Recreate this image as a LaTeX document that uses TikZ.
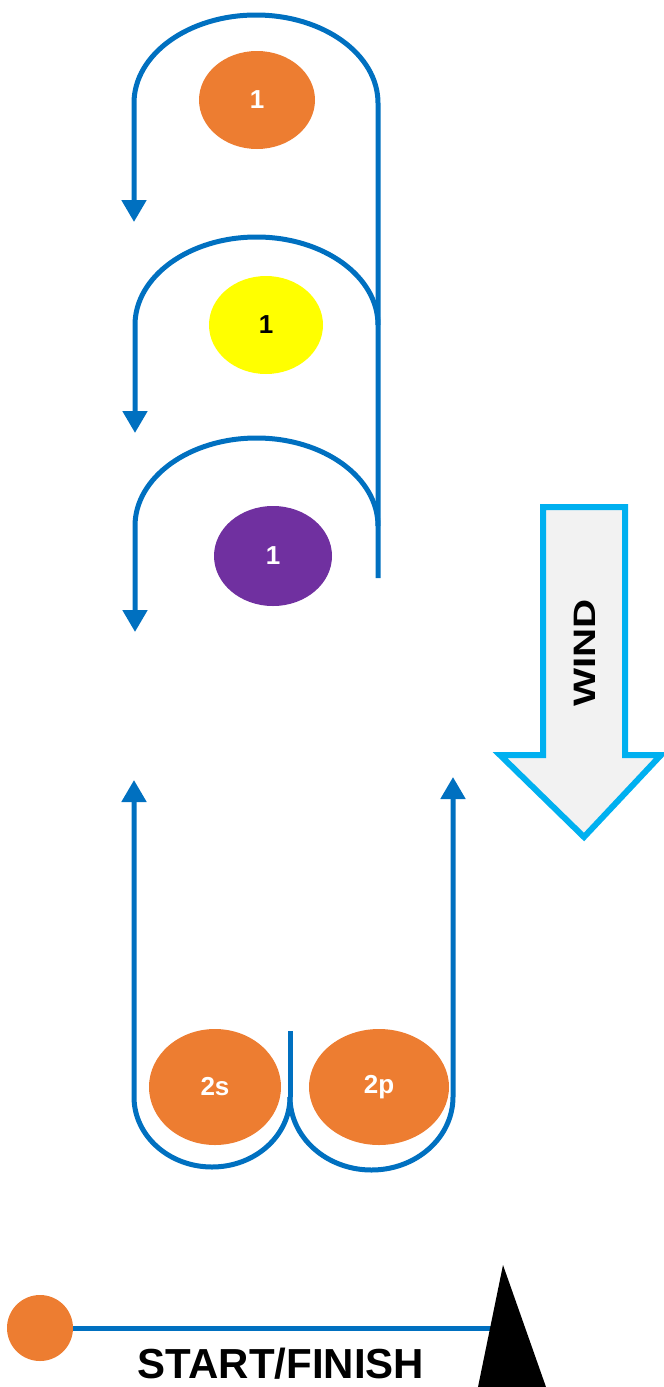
\documentclass[tikz,border=0pt]{standalone}
\usepackage{fontspec}
\setmainfont{Liberation Sans}
\usetikzlibrary{arrows.meta,shapes.geometric}
\definecolor{course}{HTML}{0070C0}
\definecolor{markorange}{HTML}{ED7D31}
\definecolor{markyellow}{HTML}{FFFF00}
\definecolor{markpurple}{HTML}{7030A0}
\definecolor{windcyan}{HTML}{00B0F0}
\definecolor{windgray}{HTML}{F2F2F2}
\tikzset{
  route/.style={course, line width=2.5pt},
  tip/.style={-{Triangle[length=11pt,width=12pt]}},
  buoy/.style={ellipse, inner sep=0pt, text=white, font=\bfseries\fontsize{13}{13}\selectfont},
}
\begin{document}
\begin{tikzpicture}[x=0.5pt,y=-0.5pt]
    \useasboundingbox (0,0) rectangle (664,1387);
    % Marks
    \node[buoy, fill=markorange, minimum width=58pt, minimum height=49pt] (m1) at (257,100) {1};
    \node[buoy, fill=markyellow, text=black, minimum width=57pt, minimum height=49pt] (m1y) at (266,325) {1};
    \node[buoy, fill=markpurple, minimum width=59pt, minimum height=50pt] (m1p) at (273,556) {1};
    \node[buoy, fill=markorange, minimum width=66pt, minimum height=58pt] (m2s) at (215,1087) {2s};
    \node[buoy, fill=markorange, minimum width=70pt, minimum height=58pt] (m2p) at (379,1087) {2p};
    % Rounding the top marks
    \draw[route, tip] (378,578) -- (378,103) arc[start angle=0, end angle=180, x radius=61pt, y radius=44pt] -- (134,222);
    \draw[route, tip] (378,325) arc[start angle=0, end angle=180, x radius=60.75pt, y radius=44pt] -- (135,433);
    \draw[route, tip] (378,526) arc[start angle=0, end angle=180, x radius=60.75pt, y radius=44pt] -- (135,632);
    % Gate at the bottom
    \draw[route, tip] (290,1097) arc[start angle=360, end angle=180, x radius=39pt, y radius=35pt] -- (134,780);
    \draw[route, tip] (290,1097) arc[start angle=180, end angle=360, x radius=40.75pt, y radius=36.5pt] -- (453,777);
    \draw[route] (290,1031) -- (290,1097);
    % Wind arrow
    \draw[windcyan, fill=windgray, line width=3pt, line join=miter]
        (543,507) -- (625,507) -- (625,755) -- (661,755) -- (584,837) -- (500,755) -- (543,755) -- cycle;
    \node[rotate=90, xscale=1.3, font=\bfseries\fontsize{15.5}{15.5}\selectfont] (wind) at (585,653) {WIND};
    % Start/finish line
    \node[circle, fill=markorange, minimum size=33pt, inner sep=0pt] (start) at (40,1328) {};
    \coordinate (pin) at (495,1328);
    \draw[route] (start) -- (pin);
    \fill[black] (503,1265) -- (546,1387) -- (478,1387) -- cycle;
    \node[font=\bfseries\fontsize{21}{21}\selectfont] (line) at (281,1364) {START/FINISH};
\end{tikzpicture}
\end{document}
